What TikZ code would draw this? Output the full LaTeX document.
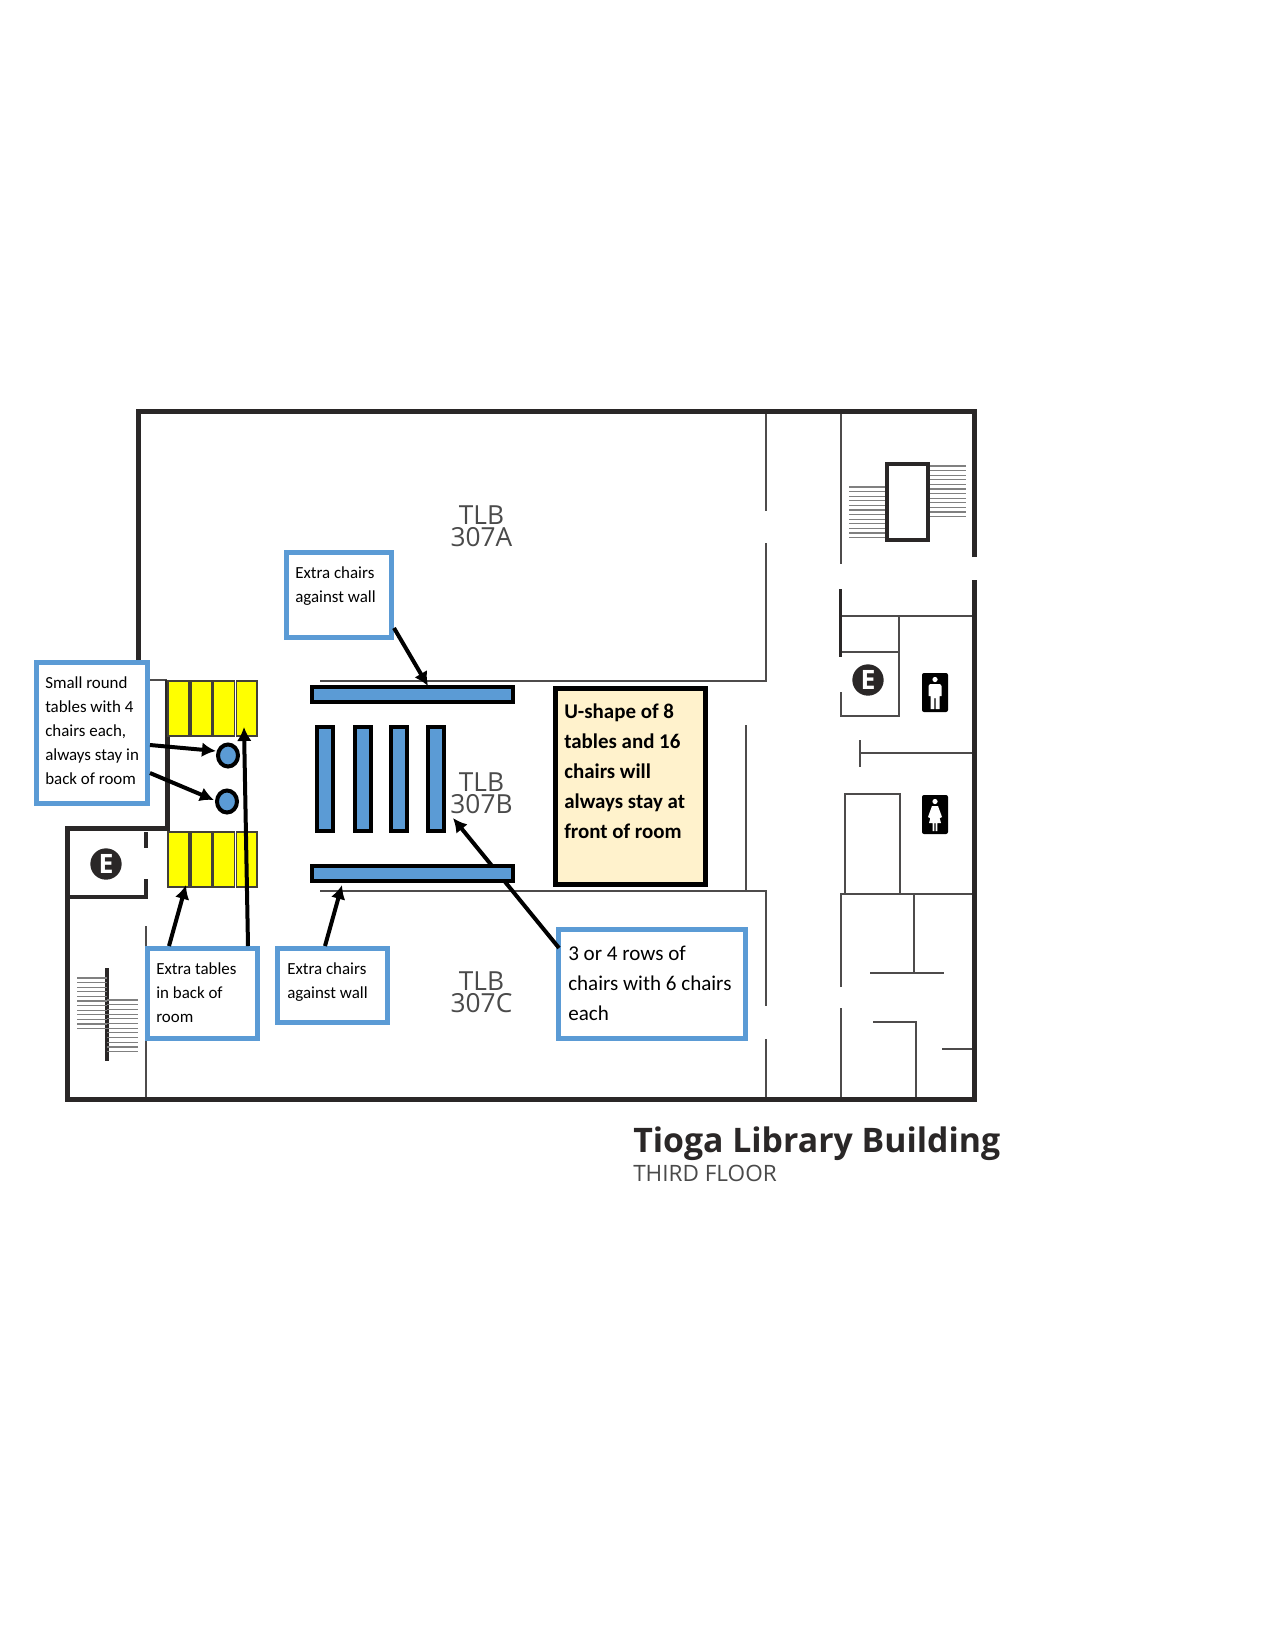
\documentclass[tikz,border=0pt]{standalone}
\usepackage{fontspec}
\setmainfont{Carlito}
\newfontfamily\opensans{Open Sans}
\definecolor{wallc}{HTML}{2A2727}
\definecolor{thinc}{HTML}{4D4B4B}
\definecolor{stairc}{HTML}{808080}
\definecolor{bluec}{HTML}{5B9BD5}
\definecolor{creamc}{HTML}{FFF2CC}
\definecolor{tlbc}{HTML}{4A4A4A}
\definecolor{pureyellow}{HTML}{FFFF00}
\tikzset{
  wall/.style={line width=3.75pt,draw=wallc,line cap=butt,line join=miter},
  midwall/.style={line width=2.6pt,draw=wallc},
  thin wall/.style={line width=1.5pt,draw=thinc},
  tread/.style={line width=0.8pt,draw=stairc},
  ytable/.style={draw=black!85!yellow,line width=1.1pt,fill=pureyellow},
  bluebar/.style={draw=black,line width=3pt,fill=bluec},
  callout/.style={draw=bluec,line width=3.75pt,fill=white},
  notebox/.style={draw=black,line width=3.75pt,fill=creamc},
  smalltxt/.style={anchor=base west,inner sep=0pt,font=\fontsize{12.7}{18}\selectfont,text=black},
  midtxt/.style={anchor=base west,inner sep=0pt,font=\fontsize{15.8}{22.5}\selectfont,text=black},
  boldtxt/.style={anchor=base west,inner sep=0pt,font=\fontsize{15.7}{22.5}\selectfont\bfseries,text=black},
  tlbtxt/.style={anchor=base,inner sep=0pt,font=\opensans\fontsize{19.7}{16.6}\selectfont,text=tlbc},
  pointer/.style={line width=3pt,draw=black,-{Latex[length=10.5pt,width=11pt]}},
  ebadge/.style={circle,fill=wallc,minimum size=23.5pt,inner sep=0pt,text=white,font=\opensans\bfseries\fontsize{20}{20}\selectfont},
  wcsign/.style={fill=black,rounded corners=1.5pt},
  figure/.style={fill=white,draw=none},
}
\usetikzlibrary{arrows.meta}
\begin{document}
\begin{tikzpicture}[x=0.75pt,y=-0.75pt]
\useasboundingbox (0,0) rectangle (1275,1650);
\fill[white] (0,0) rectangle (1275,1650);

% thin interior walls
\draw[thin wall] (765.5,411) -- (765.5,511);
\draw[thin wall] (765.5,543) -- (765.5,681) -- (320,681);
\draw[thin wall] (150,680) -- (167,680);
\draw[thin wall] (320,891) -- (765.5,891) -- (765.5,1006);
\draw[thin wall] (765.5,1039) -- (765.5,1099);
\draw[thin wall] (746,725) -- (746,891);
\draw[thin wall] (840.7,411) -- (840.7,564);
\draw[thin wall] (840.7,692) -- (840.7,716) -- (898.5,716) -- (898.5,616);
\draw[thin wall] (840.7,616) -- (972,616);
\draw[thin wall] (840.7,652) -- (898.5,652);
\draw[thin wall] (860,740) -- (860,767);
\draw[thin wall] (860,753) -- (972,753);
\draw[thin wall] (845,894) -- (845,794) -- (899.5,794) -- (899.5,894);
\draw[thin wall] (840.7,987) -- (840.7,894) -- (972,894);
\draw[thin wall] (840.7,1008) -- (840.7,1099);
\draw[thin wall] (913.5,894) -- (913.5,973);
\draw[thin wall] (870,973) -- (944,973);
\draw[thin wall] (873,1022) -- (916,1022) -- (916,1099);
\draw[thin wall] (942,1049) -- (972,1049);
\draw[thin wall] (146,926) -- (146,1099);
\draw[midwall] (840.7,589) -- (840.7,657);

% left stair room and E room
\draw[midwall] (146,832) -- (146,848);
\draw[midwall] (146,879) -- (146,897) -- (67,897);
\draw[midwall] (107,968) -- (107,1061);
\foreach \yy in {978,982.6,...,1030} {\draw[tread] (77,\yy) -- (107,\yy);}
\foreach \yy in {1000,1004.7,...,1053} {\draw[tread] (107,\yy) -- (138,\yy);}

% upper right stair
\foreach \yy in {487,491.6,...,539} {\draw[tread] (849,\yy) -- (886,\yy);}
\foreach \yy in {466,470.6,...,518} {\draw[tread] (928,\yy) -- (966,\yy);}
\draw[midwall,line width=3pt] (886.5,463.5) rectangle (928,540);

% outer walls
\draw[wall] (974,557) -- (974,411) -- (138.5,411) -- (138.5,670);
\draw[wall] (974,580) -- (974,1099) -- (67,1099) -- (67,828) -- (167,828) -- (167,680);

% badges
\node[ebadge] (e1) at (868,680) {E};
\node[ebadge] (e2) at (106,864) {E};

% man sign
\fill[wcsign] (922,673) rectangle (948,712);
\fill[figure] (935,679.5) circle (2.6);
\fill[figure] (930,684) -- (940,684) -- (941.5,686) -- (941.5,696) -- (939.5,696) -- (939.5,709) -- (935.6,709) -- (935.6,698) -- (934.4,698) -- (934.4,709) -- (930.5,709) -- (930.5,696) -- (928.5,696) -- (928.5,686) -- cycle;
% woman sign
\fill[wcsign] (922,795) rectangle (948,834);
\fill[figure] (935,801.5) circle (2.6);
\fill[figure] (932,806) -- (938,806) -- (942,817) -- (940,818) -- (938,812) -- (941,823) -- (937.4,823) -- (937.4,831) -- (935.7,831) -- (935.7,823) -- (934.3,823) -- (934.3,831) -- (932.6,831) -- (932.6,823) -- (929,823) -- (932,812) -- (930,818) -- (928,817) -- cycle;

% room labels
\node[tlbtxt] (l1) at (481.5,524) {\parbox[t]{60pt}{\centering TLB\\307A}};
\node[tlbtxt] (l2) at (481.5,791) {\parbox[t]{60pt}{\centering TLB\\307B}};
\node[tlbtxt] (l3) at (481.5,990) {\parbox[t]{60pt}{\centering TLB\\307C}};

% yellow tables
\foreach \xa/\xb in {168/189,191/212,213.5/234.5,236.5/257} {
  \draw[ytable] (\xa,681) rectangle (\xb,736);
  \draw[ytable] (\xa,832) rectangle (\xb,887);
}

% callout below the arrow that starts on it
\draw[callout] (558.5,929.5) rectangle (745.5,1038.5);

% arrow running behind the lower bar
\coordinate (rowsTail) at (559,948);
\coordinate (rowsHead) at (453,818);
\draw[pointer] (rowsTail) -- (rowsHead);

% blue chairs
\draw[bluebar] (312,687) rectangle (513,702);
\draw[bluebar] (312,866) rectangle (513,881);
\foreach \xa in {317,355,391,428} {
  \draw[bluebar] (\xa,727) rectangle (\xa+16,831);
}
\draw[bluebar] (228,755.5) ellipse (10 and 11);
\draw[bluebar] (227,801.5) ellipse (10 and 11);

% callouts
\draw[callout] (286.5,552.5) rectangle (391.5,637.5);
\draw[callout] (36.5,662.5) rectangle (147.5,803.5);
\draw[callout] (147.5,948.5) rectangle (257.5,1038.5);
\draw[callout] (277.5,948.5) rectangle (387.5,1022.5);
\draw[notebox] (555.5,688.5) rectangle (705.5,884.5);

\node[smalltxt] (t1) at (295,578) {\parbox[t]{85pt}{Extra chairs\\against wall}};
\node[smalltxt] (t2) at (45,688) {\parbox[t]{75pt}{Small round\\tables with 4\\chairs each,\\always stay in\\back of room}};
\node[smalltxt] (t3) at (156,974) {\parbox[t]{72pt}{Extra tables\\in back of\\room}};
\node[smalltxt] (t4) at (287,974) {\parbox[t]{72pt}{Extra chairs\\against wall}};
\node[midtxt] (t5) at (568,960) {\parbox[t]{128pt}{3 or 4 rows of\\chairs with 6 chairs\\each}};
\node[boldtxt] (t6) at (564,718) {\parbox[t]{100pt}{U-shape of 8\\tables and 16\\chairs will\\always stay at\\front of room}};

% pointers
\coordinate (a1s) at (394,628); \coordinate (a1e) at (428,686);
\coordinate (a2s) at (150,745); \coordinate (a2e) at (216,751);
\coordinate (a3s) at (150,773); \coordinate (a3e) at (214,800);
\coordinate (a4s) at (248,946); \coordinate (a4e) at (244,727);
\coordinate (a5s) at (169,946); \coordinate (a5e) at (186,885);
\coordinate (a6s) at (325,946); \coordinate (a6e) at (342,885);
\foreach \n in {1,...,6} {\draw[pointer] (a\n s) -- (a\n e);}

% title
\node[anchor=base west,inner sep=0pt,font=\opensans\bfseries\fontsize{25.35}{25}\selectfont,text=wallc] (title) at (633,1152) {Tioga Library Building};
\node[anchor=base west,inner sep=0pt,font=\opensans\fontsize{16.9}{17}\selectfont,text=tlbc] (subtitle) at (633,1181) {THIRD FLOOR};
\end{tikzpicture}
\end{document}
